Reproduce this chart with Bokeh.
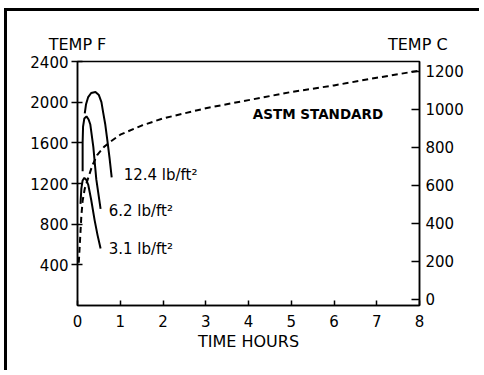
from bokeh.plotting import figure
from bokeh.models import Range1d, LinearAxis, FixedTicker, Label
from bokeh.embed import file_html
from bokeh.resources import INLINE

# ASTM standard fire curve (hours, deg F)
astm_t = [0.03, 0.06, 0.09, 0.12, 0.17, 0.24, 0.34, 0.46, 0.62, 0.8, 1.0, 1.5, 2.0, 3.0, 4.0, 5.0, 6.0, 7.0, 8.0]
astm_f = [420, 650, 880, 1030, 1150, 1240, 1370, 1480, 1560, 1620, 1680, 1770, 1840, 1940, 2020, 2100, 2165, 2240, 2310]

# Fire load curves
t_124 = [0.17, 0.2, 0.25, 0.32, 0.42, 0.5, 0.56, 0.6, 0.65, 0.7, 0.75, 0.8]
f_124 = [1890, 1980, 2050, 2090, 2100, 2070, 2000, 1900, 1780, 1620, 1450, 1260]

t_62 = [0.12, 0.12, 0.13, 0.16, 0.21, 0.26, 0.3, 0.37, 0.44, 0.54]
f_62 = [1320, 1600, 1760, 1840, 1860, 1830, 1780, 1560, 1240, 950]

t_31 = [0.07, 0.09, 0.12, 0.16, 0.2, 0.25, 0.32, 0.4, 0.47, 0.54]
f_31 = [1000, 1150, 1230, 1255, 1240, 1190, 1040, 840, 690, 560]

x_ticks = [0, 1, 2, 3, 4, 5, 6, 7, 8]
f_ticks = [400, 800, 1200, 1600, 2000, 2400]
c_ticks = [0, 200, 400, 600, 800, 1000, 1200]

axis_titles = ["TEMP F", "TEMP C"]
curve_labels = ["12.4 lb/ft\u00b2", "6.2 lb/ft\u00b2", "3.1 lb/ft\u00b2"]

FONT = "DejaVu Sans"

p = figure(width=475, height=362, output_backend="svg", toolbar_location=None,
           x_range=Range1d(0, 8), y_range=Range1d(0, 2400),
           min_border_left=70, min_border_right=63, min_border_top=50, min_border_bottom=68,
           x_axis_location=None, y_axis_location=None)
p.styles = {"border-top": "3px solid black", "border-left": "3px solid black",
            "margin-left": "4px", "margin-top": "8px"}
p.extra_y_ranges = {"c": Range1d(-34, 1250)}
p.xgrid.visible = False
p.ygrid.visible = False
p.outline_line_color = "black"
p.outline_line_width = 1.5
p.background_fill_color = "white"
p.border_fill_color = "white"

xax = LinearAxis(ticker=FixedTicker(ticks=x_ticks), axis_label="TIME HOURS")
xax.major_tick_in = 5
xax.major_tick_out = 0
xax.major_label_standoff = 9
xax.axis_label_standoff = 2
xax.axis_label_text_font_style = "normal"
xax.axis_label_text_font_size = "16px"
p.add_layout(xax, "below")

# top axis used only to carry the two axis titles "TEMP F" / "TEMP C"
title_pos = [0, 7.96]
tax = LinearAxis(ticker=FixedTicker(ticks=title_pos),
                 major_label_overrides={title_pos[0]: axis_titles[0], title_pos[1]: axis_titles[1]})
tax.major_tick_in = 0
tax.major_tick_out = 0
tax.major_label_standoff = 8
tax.axis_line_color = None
p.add_layout(tax, "above")

yax = LinearAxis(ticker=FixedTicker(ticks=f_ticks))
yax.major_tick_in = 5
yax.major_tick_out = 6
yax.major_label_standoff = 3
p.add_layout(yax, "left")

cax = LinearAxis(ticker=FixedTicker(ticks=c_ticks), y_range_name="c")
cax.major_tick_in = 8
cax.major_tick_out = 0
cax.major_label_standoff = 6
p.add_layout(cax, "right")

for ax in (xax, yax, cax, tax):
    if ax is not tax:
        ax.axis_line_color = "black"
        ax.axis_line_width = 1.5
    ax.minor_tick_out = 0
    ax.minor_tick_in = 0
    ax.major_tick_line_color = "black"
    ax.major_tick_line_width = 1.5
    ax.major_label_text_font = FONT
    ax.major_label_text_font_size = "15px"
    ax.major_label_text_color = "black"
    ax.axis_label_text_font = FONT
    ax.axis_label_text_color = "black"
tax.major_label_text_font_size = "16px"

p.line(astm_t, astm_f, line_color="black", line_width=2, line_dash="6 4")
p.line(t_124, f_124, line_color="black", line_width=2)
p.line(t_62, f_62, line_color="black", line_width=2)
p.line(t_31, f_31, line_color="black", line_width=2)

label_style = dict(text_font=FONT, text_color="black", text_baseline="middle")
p.add_layout(Label(x=1.08, y=1279, text=curve_labels[0], text_font_size="15px", **label_style))
p.add_layout(Label(x=0.73, y=934, text=curve_labels[1], text_font_size="15px", **label_style))
p.add_layout(Label(x=0.73, y=551, text=curve_labels[2], text_font_size="15px", **label_style))
p.add_layout(Label(x=4.1, y=1888, text="ASTM STANDARD", text_font_size="13.5px",
                   text_font_style="bold", **label_style))

open("out.html", "w").write(file_html(p, INLINE))
